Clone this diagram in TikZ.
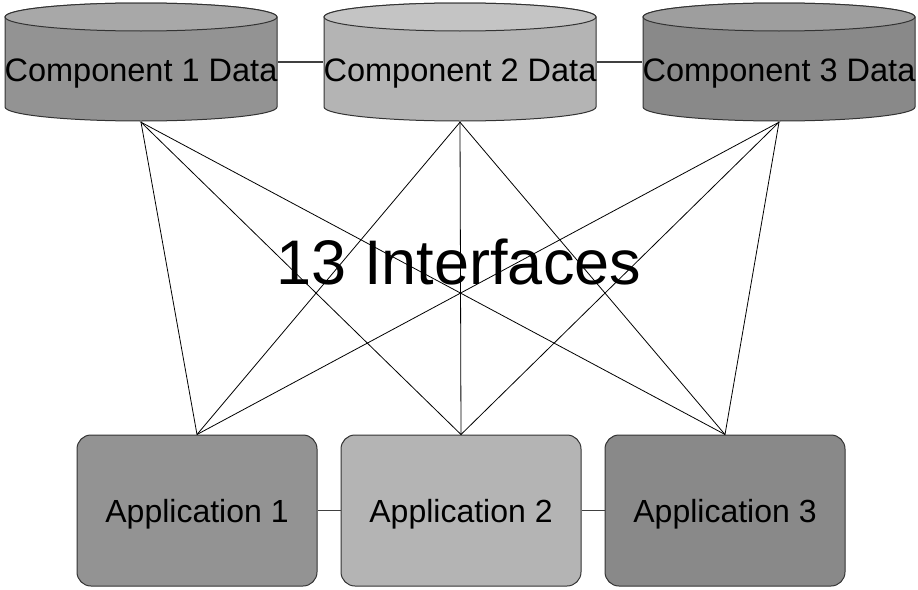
\documentclass[tikz,border=0pt]{standalone}
\usepackage{fontspec}
\setmainfont{Liberation Sans}
\definecolor{bodyA}{HTML}{939393}
\definecolor{topA}{HTML}{A8A8A8}
\definecolor{bodyB}{HTML}{B4B4B4}
\definecolor{topB}{HTML}{C4C4C4}
\definecolor{bodyC}{HTML}{898989}
\definecolor{topC}{HTML}{9E9E9E}
\tikzset{
  datastore/.style 2 args={rectangle, minimum width=274pt, minimum height=120pt,
    inner sep=0pt, text height=39pt, text depth=0pt,
    font=\fontsize{32.5}{38}\selectfont,
    path picture={
      \path[fill=#1, draw=black!80, line width=1pt]
        ([xshift=1pt,yshift=-15pt]path picture bounding box.north west)
        -- ([xshift=1pt,yshift=15pt]path picture bounding box.south west)
        arc[start angle=180, end angle=360, x radius=136pt, y radius=14pt]
        -- ([xshift=-1pt,yshift=-15pt]path picture bounding box.north east)
        arc[start angle=0, end angle=180, x radius=136pt, y radius=14pt]
        -- cycle;
      \path[fill=#2, draw=black!80, line width=1pt]
        ([yshift=-15pt]path picture bounding box.north)
        ellipse[x radius=136pt, y radius=14pt];
    }},
  app/.style={rectangle, rounded corners=14pt, draw=black!80, line width=1pt,
    minimum width=240pt, minimum height=151pt,
    text height=24pt, text depth=0pt,
    font=\fontsize{32}{38}\selectfont},
  link/.style={draw=black!75, line width=1.2pt},
}
\begin{document}
\begin{tikzpicture}[x=1pt,y=-1pt]
  \useasboundingbox (0,0) rectangle (918,589);
  \node[datastore={bodyA}{topA}] (c1) at (141,62) {Component 1 Data};
  \node[datastore={bodyB}{topB}] (c2) [right of=c1, node distance=319pt] {Component 2 Data};
  \node[datastore={bodyC}{topC}] (c3) [right of=c2, node distance=319pt] {Component 3 Data};
  \node[app, fill=bodyA] (a1) at (197,510.5) {Application 1};
  \node[app, fill=bodyB] (a2) [right of=a1, node distance=264pt] {Application 2};
  \node[app, fill=bodyC] (a3) [right of=a2, node distance=264pt] {Application 3};
  \node (count) at (459,262) {\fontsize{63}{70}\selectfont 13 Interfaces};
  \path[-, line width=0.8pt] (c1.south) edge (a1.north)
            (c1.south) edge (a2.north)
            (c1.south) edge (a3.north)
            (c2.south) edge (a1.north)
            (c2.south) edge (a2.north)
            (c2.south) edge (a3.north)
            (c3.south) edge (a1.north)
            (c3.south) edge (a2.north)
            (c3.south) edge (a3.north)
            ;
  \path[link] (c1) edge (c2)
            (c2) edge (c3)
            (a1) edge (a2)
            (a2) edge (a3)
            ;
\end{tikzpicture}
\end{document}
